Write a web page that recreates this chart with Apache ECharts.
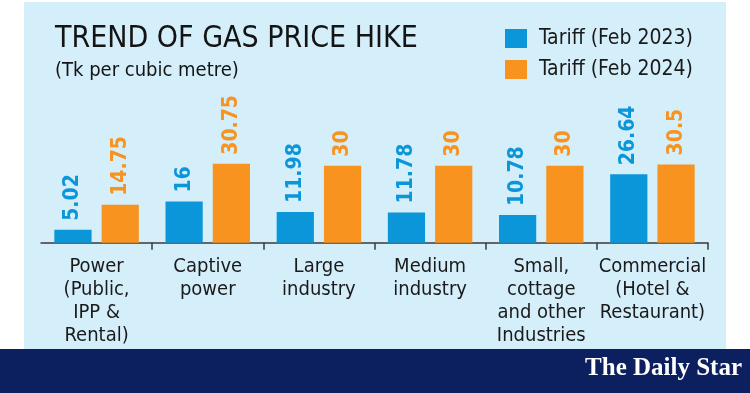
<!DOCTYPE html>
<html>
<head>
<meta charset="utf-8">
<script src="https://cdn.jsdelivr.net/npm/echarts@6/dist/echarts.min.js"></script>
<style>html,body{margin:0;padding:0;background:#fff;}#chart{width:750px;height:393px;}</style>
</head>
<body>
<div id="chart"></div>
<script>
const categories = [
  "Power\n(Public,\nIPP &\nRental)",
  "Captive\npower",
  "Large\nindustry",
  "Medium\nindustry",
  "Small,\ncottage\nand other\nIndustries",
  "Commercial\n(Hotel &\nRestaurant)"
];
const tariff2023 = [5.02, 16, 11.98, 11.78, 10.78, 26.64];
const tariff2024 = [14.75, 30.75, 30, 30, 30, 30.5];
const labels2023 = ["5.02", "16", "11.98", "11.78", "10.78", "26.64"];
const labels2024 = ["14.75", "30.75", "30", "30", "30", "30.5"];

const FONT = '"DejaVu Sans Condensed", "Liberation Sans Narrow", sans-serif';
const chart = echarts.init(document.getElementById('chart'), null, {renderer: 'canvas'});

function valueLabel(color, texts) {
  return {
    show: true,
    position: 'top',
    rotate: 90,
    align: 'left',
    verticalAlign: 'middle',
    distance: 9,
    color: color,
    fontFamily: FONT,
    fontWeight: 'bold',
    fontSize: 21,
    formatter: p => texts[p.dataIndex]
  };
}

chart.setOption({
  backgroundColor: '#ffffff',
  animation: false,
  graphic: [
    {type: 'rect', z: -10, silent: true, shape: {x: 24, y: 2, width: 702, height: 347}, style: {fill: '#d4eefa'}},
    {type: 'rect', z: -10, silent: true, shape: {x: 0, y: 349, width: 750, height: 44}, style: {fill: '#0c1f5e'}},
    {type: 'text', z: 10, silent: true, right: 8, top: 356,
      style: {text: 'The Daily Star', fill: '#ffffff', font: 'bold 25px "Liberation Serif", serif'}}
  ],
  title: [
    {text: 'TREND OF GAS PRICE HIKE', left: 55, top: 24, padding: 0,
      textStyle: {fontFamily: FONT, fontWeight: 'normal', fontSize: 30, color: '#141414'}},
    {text: '(Tk per cubic metre)', left: 55, top: 61, padding: 0,
      textStyle: {fontFamily: FONT, fontWeight: 'normal', fontSize: 20, color: '#141414'}}
  ],
  legend: {
    orient: 'vertical',
    left: 505,
    top: 28,
    padding: 0,
    itemWidth: 22,
    itemHeight: 19,
    itemGap: 10,
    icon: 'rect',
    textStyle: {fontFamily: FONT, fontSize: 21, color: '#1a1a1a', padding: [0, 0, 0, 7]},
    data: ['Tariff (Feb 2023)', 'Tariff (Feb 2024)']
  },
  grid: {left: 41, right: 42, top: 140, bottom: 150.3, containLabel: false},
  xAxis: {
    type: 'category',
    data: categories,
    offset: 6.5,
    axisLine: {show: true, lineStyle: {color: '#3a3a3a', width: 1.5}},
    axisTick: {show: true, length: 7, lineStyle: {color: '#3a3a3a', width: 1.5},
      interval: function (i) { return i !== 0; }},
    axisLabel: {
      interval: 0,
      margin: 6,
      fontFamily: FONT,
      fontSize: 20,
      lineHeight: 23,
      color: '#1a1a1a',
      align: 'center',
      verticalAlign: 'top'
    }
  },
  yAxis: {
    type: 'value', min: 0, max: 40, show: false,
    splitLine: {show: false}
  },
  series: [
    {
      name: 'Tariff (Feb 2023)', type: 'bar', data: tariff2023,
      barGap: '27%', barCategoryGap: '24%',
      itemStyle: {color: '#0a96d9'},
      label: valueLabel('#0a96d9', labels2023)
    },
    {
      name: 'Tariff (Feb 2024)', type: 'bar', data: tariff2024,
      itemStyle: {color: '#f7931e'},
      label: valueLabel('#f7931e', labels2024)
    }
  ]
});
</script>
</body>
</html>
